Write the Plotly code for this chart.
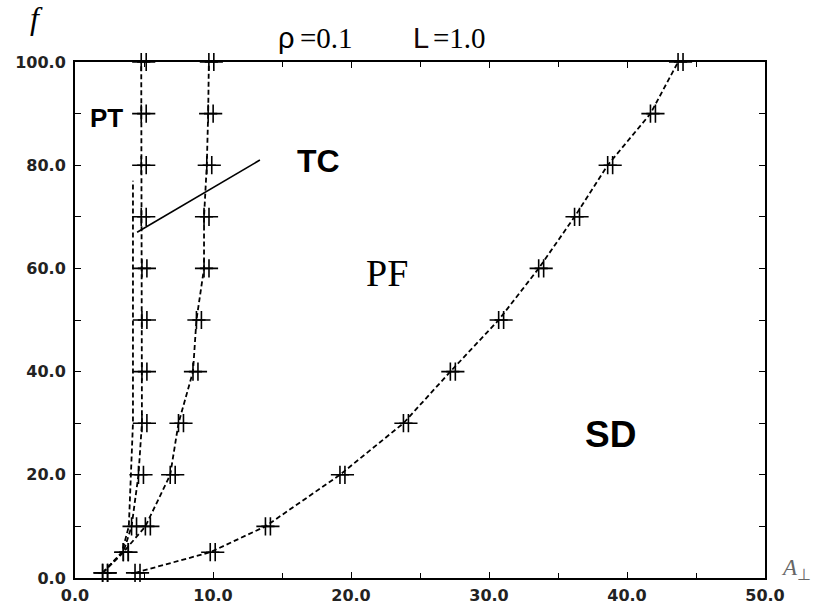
import plotly.graph_objects as go

# ---------------- data ----------------
f_levels = [1, 5, 10, 20, 30, 40, 50, 60, 70, 80, 90, 100]

# PT / TC boundary (markered, x ~ 4.8)
curve_a_x = [2.0, 3.5, 4.1, 4.6, 4.85, 4.85, 4.85, 4.85, 4.8, 4.8, 4.8, 4.8]
# TC / PF boundary (markered, x ~ 9.5)
curve_c_x = [2.0, 3.5, 5.1, 6.9, 7.5, 8.55, 8.8, 9.35, 9.35, 9.55, 9.65, 9.7]
# PF / SD boundary
curve_d_x = [4.35, 9.8, 13.8, 19.2, 23.8, 27.2, 30.7, 33.6, 36.2, 38.6, 41.7, 43.7]

# leftmost dashed curve without markers
curve_b_f = [1, 5, 10, 20, 30, 40, 50, 60, 70, 77]
curve_b_x = [2.0, 3.4, 3.9, 4.05, 4.2, 4.2, 4.2, 4.2, 4.2, 4.2]

# solid pointer line to the "TC" label
tc_line_x = [4.5, 13.4]
tc_line_f = [67, 81]

region_labels = ["PT", "TC", "PF", "SD"]

x_ticks = [0, 10, 20, 30, 40, 50]
y_ticks = [0, 20, 40, 60, 80, 100]

# ---------------- figure ----------------
L, R, T, B = 75, 52, 62, 27
W, H = 817, 605
PW, PH = W - L - R, H - T - B


def px(xp):
    return (xp - L) / PW


def py(yp):
    return (H - B - yp) / PH


fig = go.Figure()

dash = "5px,3px"
line_style = dict(color="black", width=1.8, dash=dash)

for xs, fs in [(curve_b_x, curve_b_f), (curve_a_x, f_levels),
               (curve_c_x, f_levels), (curve_d_x, f_levels)]:
    fig.add_trace(go.Scatter(x=xs, y=fs, mode="lines", line=line_style,
                             hoverinfo="skip", cliponaxis=False))

marker = dict(symbol="cross-thin", size=13, color="black",
              line=dict(color="black", width=1.6))
for xs in [curve_a_x, curve_c_x, curve_d_x]:
    fig.add_trace(go.Scatter(x=xs, y=f_levels, mode="markers", marker=marker,
                             cliponaxis=False))
    # second "+" of each doubled marker, drawn on a slightly shifted overlay axis
    fig.add_trace(go.Scatter(x=xs, y=f_levels, mode="markers", marker=marker,
                             xaxis="x2", cliponaxis=False))

fig.add_trace(go.Scatter(x=tc_line_x, y=tc_line_f, mode="lines",
                         line=dict(color="black", width=1.6)))

tick_font = dict(family="DejaVu Sans", size=16, color="#222", weight="bold")

fig.update_layout(
    width=W, height=H,
    margin=dict(l=L, r=R, t=T, b=B, autoexpand=False),
    plot_bgcolor="white", paper_bgcolor="white",
    showlegend=False,
    xaxis=dict(range=[0, 50], tickvals=x_ticks, tickformat=".1f",
               ticks="inside", ticklen=6, tickwidth=1.2, tickcolor="black",
               minor=dict(dtick=5, ticks="inside", ticklen=5, tickcolor="black"),
               showgrid=False, zeroline=False, showline=True,
               linecolor="black", linewidth=2, mirror="allticks",
               tickfont=tick_font, ticklabelstandoff=2, automargin=False),
    xaxis2=dict(range=[-0.36, 49.64], overlaying="x", visible=False,
                automargin=False),
    yaxis=dict(range=[0, 100], tickvals=y_ticks, tickformat=".1f",
               ticks="inside", ticklen=6, tickwidth=1.2, tickcolor="black",
               minor=dict(dtick=10, ticks="inside", ticklen=5, tickcolor="black"),
               showgrid=False, zeroline=False, showline=True,
               linecolor="black", linewidth=2, mirror="allticks",
               tickfont=tick_font, ticklabelstandoff=4, automargin=False),
)

sans_bold = dict(family="Liberation Sans", color="black", weight="bold")
label_pos = {
    "PT": (106, 118, dict(sans_bold, size=26)),
    "TC": (318, 161, dict(sans_bold, size=32)),
    "PF": (387, 273, dict(family="Liberation Serif", size=38, color="black")),
    "SD": (610, 434, dict(sans_bold, size=37)),
}
for name in region_labels:
    xp, yp, font = label_pos[name]
    fig.add_annotation(x=px(xp), y=py(yp), xref="paper", yref="paper",
                       text=name, showarrow=False, font=font,
                       xanchor="center", yanchor="middle")

# title pieces
title_parts = [
    ("ρ", 276, "Liberation Sans", "black", "normal"),
    ("=0.1", 298, "Liberation Serif", "black", "normal"),
    ("L", 411, "Liberation Sans", "#1a0808", "normal"),
    ("=1.0", 431, "Liberation Serif", "black", "normal"),
]
for txt, xp, fam, col, wt in title_parts:
    fig.add_annotation(x=px(xp), y=py(38), xref="paper", yref="paper",
                       text=txt, showarrow=False, xanchor="left",
                       yanchor="middle",
                       font=dict(family=fam, size=29, color=col, weight=wt))

# axis labels
fig.add_annotation(x=px(36), y=py(18), xref="paper", yref="paper",
                   text="<i>f</i>", showarrow=False,
                   xanchor="center", yanchor="middle",
                   font=dict(family="Liberation Serif", size=32, color="black"))
fig.add_annotation(x=px(779), y=py(569), xref="paper", yref="paper",
                   text="<i>A</i><sub>⊥</sub>", showarrow=False,
                   xanchor="left", yanchor="middle",
                   font=dict(family="Liberation Serif", size=23, color="#666"))

fig.write_html("out.html",
               config={"displayModeBar": False},
               post_script="document.body.style.margin='0';"
                           "document.body.style.overflow='hidden';")
